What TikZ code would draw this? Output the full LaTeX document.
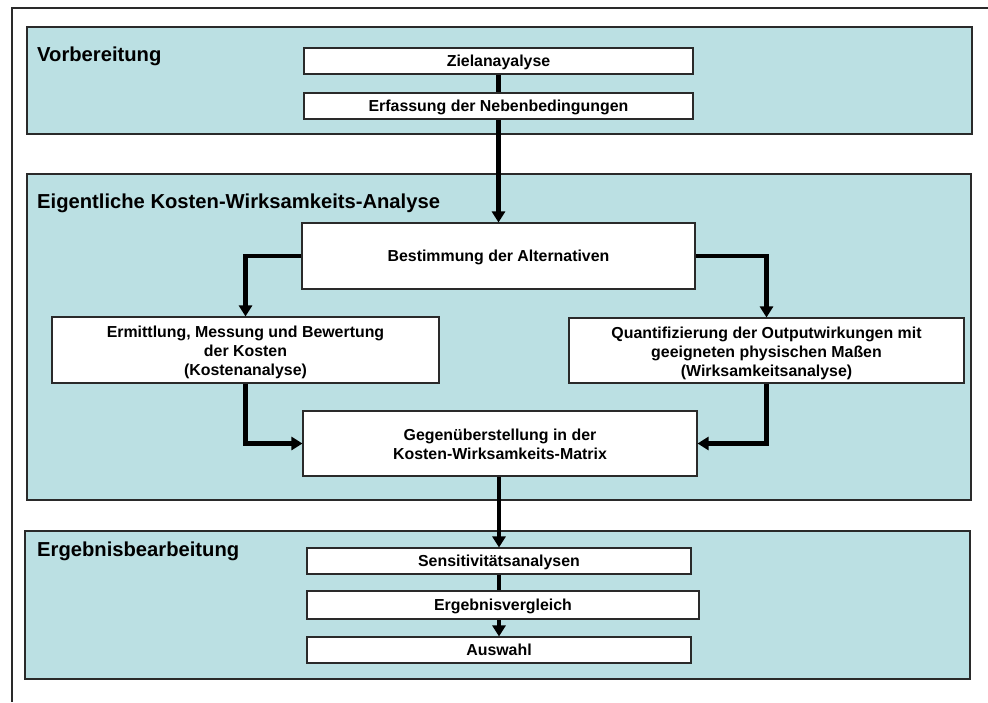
\documentclass[tikz,border=0pt]{standalone}
\usepackage{fontspec}
\setmainfont{Liberation Sans}
\usetikzlibrary{arrows.meta}
\definecolor{panelfill}{HTML}{BBE0E3}
\definecolor{edgecol}{HTML}{2A2A2A}
\newcommand{\mytopstrut}{\rule{0pt}{17pt}}
\tikzset{
  panel/.style={draw=edgecol, line width=1.2pt, fill=panelfill},
  paneltitle/.style={anchor=base west, inner sep=0pt, font=\fontsize{20.2}{23}\selectfont\bfseries},
  box/.style={draw=edgecol, line width=1.1pt, fill=white, inner sep=0pt, align=center,
    font=\fontsize{15.9}{19}\selectfont\bfseries},
  onebox/.style={box, text height=11.5pt, text depth=0pt},
  flow/.style={line width=4.5pt, draw=black},
  flowarrow/.style={flow, -{Triangle[length=11pt,width=13pt]}},
}
\begin{document}
\begin{tikzpicture}[x=1pt,y=-1pt]
\useasboundingbox (0,0) rectangle (988,702);
% outer frame (top and left edges visible)
\coordinate (frTL) at (12,8);
\coordinate (frTR) at (988,8);
\coordinate (frBL) at (12,702);
\draw[line width=1.2pt, draw=edgecol] (frTR) -- (frTL) -- (frBL);

% panels
\draw[panel] (27,27) rectangle (972,134);
\draw[panel] (27,174) rectangle (971,500);
\draw[panel] (25,531) rectangle (970,679);

\node[paneltitle] (t1) at (37,61) {Vorbereitung};
\node[paneltitle] (t2) at (37,208) {Eigentliche Kosten-Wirksamkeits-Analyse};
\node[paneltitle] (t3) at (37,556) {Ergebnisbearbeitung};

% boxes
\node[onebox, minimum width=389pt, minimum height=26pt] (ziel) at (498.5,61) {Zielanayalyse};
\node[onebox, minimum width=389pt, minimum height=26pt] (erf) at (498.5,106) {Erfassung der Nebenbedingungen};
\node[onebox, minimum width=393pt, minimum height=66pt] (best) at (498.5,256) {Bestimmung der Alternativen};
\node[box, minimum width=387pt, minimum height=66pt] (kost) at (245.5,350) {\mytopstrut Ermittlung, Messung und Bewertung\\der Kosten\\(Kostenanalyse)};
\node[box, minimum width=395pt, minimum height=65pt] (wirk) at (766.5,350.5) {\mytopstrut Quantifizierung der Outputwirkungen mit\\geeigneten physischen Maßen\\(Wirksamkeitsanalyse)};
\node[box, minimum width=394pt, minimum height=65pt] (gegen) at (500,443.5) {\rule{0pt}{14pt}Gegenüberstellung in der\\Kosten-Wirksamkeits-Matrix};
\node[onebox, minimum width=384pt, minimum height=26pt] (sens) at (499,561) {Sensitivitätsanalysen};
\node[onebox, minimum width=392pt, minimum height=28pt] (vergl) at (503,605) {Ergebnisvergleich};
\node[onebox, minimum width=384pt, minimum height=26pt] (ausw) at (499,650) {Auswahl};

% connectors
\draw[flow] (ziel.south -| erf.north) -- (erf.north);
\draw[flowarrow] (erf.south) -- (best.north);
\draw[flowarrow] (best.west) -| (kost.north);
\draw[flowarrow] (best.east) -| (wirk.north);
\draw[flowarrow] (kost.south) |- (gegen.west);
\draw[flowarrow] (wirk.south) |- (gegen.east);
\draw[flowarrow] (gegen.south -| sens.north) -- (sens.north);
\draw[flow] (sens.south) -- (sens.south |- vergl.north);
\draw[flowarrow] (sens.south |- vergl.south) -- (ausw.north);
\end{tikzpicture}
\end{document}
